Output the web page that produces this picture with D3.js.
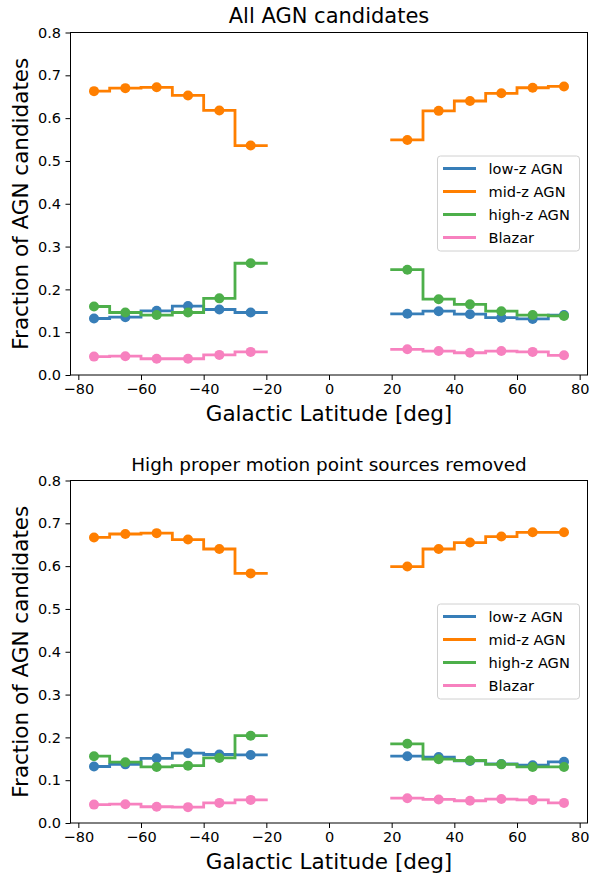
<!DOCTYPE html>
<html>
<head>
<meta charset="utf-8">
<script src="https://cdn.jsdelivr.net/npm/d3@7"></script>
<style>
  html, body { margin: 0; padding: 0; background: #fff; }
  svg { display: block; font-family: "DejaVu Sans", sans-serif; }
</style>
</head>
<body>
<svg id="chart" width="590" height="879"></svg>
<script>
// ---- data ----
const latitudes = [-75, -65, -55, -45, -35, -25, -15, -5, 5, 15, 25, 35, 45, 55, 65, 75];
const seriesNames = ["low-z AGN", "mid-z AGN", "high-z AGN", "Blazar"];
const seriesColors = ["#377eb8", "#ff7f00", "#4daf4a", "#f781bf"];

const allLowZ  = [0.132, 0.135, 0.150, 0.161, 0.153, 0.146, null, null, null, null, 0.143, 0.149, 0.142, 0.134, 0.131, 0.140];
const allMidZ  = [0.663, 0.670, 0.672, 0.653, 0.618, 0.536, null, null, null, null, 0.549, 0.617, 0.640, 0.658, 0.671, 0.674];
const allHighZ = [0.160, 0.146, 0.140, 0.146, 0.179, 0.261, null, null, null, null, 0.246, 0.177, 0.165, 0.149, 0.140, 0.138];
const allBlazar= [0.043, 0.044, 0.038, 0.038, 0.047, 0.054, null, null, null, null, 0.060, 0.056, 0.052, 0.056, 0.054, 0.046];

const pmLowZ   = [0.132, 0.137, 0.151, 0.163, 0.160, 0.159, null, null, null, null, 0.156, 0.154, 0.145, 0.138, 0.135, 0.143];
const pmMidZ   = [0.667, 0.675, 0.677, 0.662, 0.640, 0.583, null, null, null, null, 0.599, 0.640, 0.655, 0.669, 0.679, 0.679];
const pmHighZ  = [0.156, 0.142, 0.131, 0.134, 0.152, 0.204, null, null, null, null, 0.185, 0.149, 0.146, 0.137, 0.131, 0.131];
const pmBlazar = [0.043, 0.044, 0.038, 0.037, 0.047, 0.054, null, null, null, null, 0.058, 0.055, 0.052, 0.056, 0.054, 0.047];

const xTicks = [-80, -60, -40, -20, 0, 20, 40, 60, 80];
const yTicks = [0.0, 0.1, 0.2, 0.3, 0.4, 0.5, 0.6, 0.7, 0.8];

const panels = [
  { title: "All AGN candidates", titleSize: 21, top: 32.5, series: [allLowZ, allMidZ, allHighZ, allBlazar] },
  { title: "High proper motion point sources removed", titleSize: 18.4, top: 480.5, series: [pmLowZ, pmMidZ, pmHighZ, pmBlazar] }
];

// ---- drawing ----
const svg = d3.select("#chart");
const left = 70.5, right = 587.5, plotH = 342.5;

const x = d3.scaleLinear().domain([-82.5, 82.5]).range([left, right]);

// matplotlib "steps-mid" vertex builder
function stepsMid(xs, ys) {
  const v = [];
  for (let i = 0; i < xs.length; i++) {
    if (i > 0) v.push({ x: (xs[i - 1] + xs[i]) / 2, y: ys[i] });
    v.push({ x: xs[i], y: ys[i] });
    if (i < xs.length - 1) v.push({ x: (xs[i] + xs[i + 1]) / 2, y: ys[i] });
  }
  return v;
}

panels.forEach(p => {
  const y = d3.scaleLinear().domain([0, 0.8]).range([p.top + plotH, p.top]);
  const g = svg.append("g");

  // axes
  const xAxis = g.append("g")
    .attr("transform", `translate(0,${p.top + plotH})`)
    .call(d3.axisBottom(x).tickValues(xTicks).tickSize(5).tickPadding(3.5).tickFormat(d3.format("d")));
  const yAxis = g.append("g")
    .attr("transform", `translate(${left},0)`)
    .call(d3.axisLeft(y).tickValues(yTicks).tickSize(5).tickPadding(4.5).tickFormat(d3.format(".1f")));
  [xAxis, yAxis].forEach(a => {
    a.select(".domain").remove();
    a.selectAll("line").attr("stroke", "#000").attr("stroke-width", 1);
    a.selectAll("text").attr("fill", "#000").style("font-size", "14.5px").style("font-family", "DejaVu Sans");
  });

  // lines and points
  p.series.forEach((vals, si) => {
    const verts = stepsMid(latitudes, vals);
    const line = d3.line().defined(d => d.y !== null).x(d => x(d.x)).y(d => y(d.y));
    g.append("path").datum(verts)
      .attr("d", line)
      .attr("fill", "none")
      .attr("stroke", seriesColors[si])
      .attr("stroke-width", 2.8)
      .attr("stroke-linejoin", "miter")
      .attr("stroke-linecap", "square");
    const pts = latitudes.map((lat, i) => ({ lat, v: vals[i] })).filter(d => d.v !== null);
    g.selectAll(null).data(pts).enter().append("circle")
      .attr("cx", d => x(d.lat))
      .attr("cy", d => y(d.v))
      .attr("r", 5)
      .attr("fill", seriesColors[si]);
  });

  // frame
  g.append("rect")
    .attr("x", left).attr("y", p.top)
    .attr("width", right - left).attr("height", plotH)
    .attr("fill", "none").attr("stroke", "#000").attr("stroke-width", 1);

  // title
  g.append("text")
    .attr("x", (left + right) / 2).attr("y", p.top - 9.5)
    .attr("text-anchor", "middle")
    .style("font-size", p.titleSize + "px")
    .text(p.title);

  // axis labels
  g.append("text")
    .attr("x", (left + right) / 2).attr("y", p.top + plotH + 46)
    .attr("text-anchor", "middle")
    .style("font-size", "21.5px")
    .text("Galactic Latitude [deg]");
  g.append("text")
    .attr("transform", `translate(28,${p.top + plotH / 2}) rotate(-90)`)
    .attr("text-anchor", "middle")
    .style("font-size", "21.5px")
    .text("Fraction of AGN candidates");

  // legend
  const lg = g.append("g").attr("transform", `translate(437.5,${p.top + 123.5})`);
  lg.append("rect")
    .attr("width", 142).attr("height", 95).attr("rx", 3)
    .attr("fill", "#fff").attr("fill-opacity", 0.8)
    .attr("stroke", "#d0d0d0").attr("stroke-width", 1);
  seriesNames.forEach((name, i) => {
    const yy = 12.5 + i * 23;
    lg.append("line")
      .attr("x1", 5.5).attr("x2", 38.5).attr("y1", yy).attr("y2", yy)
      .attr("stroke", seriesColors[i]).attr("stroke-width", 2.8);
    lg.append("text")
      .attr("x", 51).attr("y", yy).attr("dy", "0.36em")
      .style("font-size", "14.6px")
      .text(name);
  });
});
</script>
</body>
</html>
